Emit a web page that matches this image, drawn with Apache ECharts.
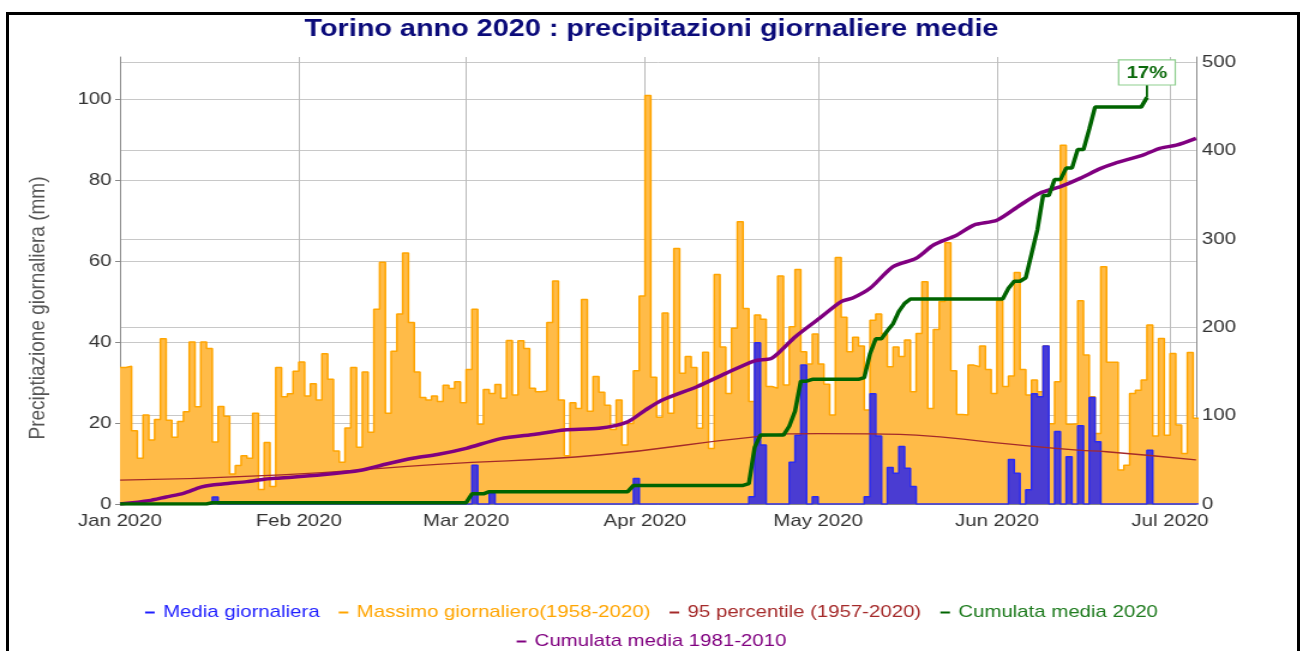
<!DOCTYPE html>
<html><head><meta charset="utf-8">
<script src="https://cdn.jsdelivr.net/npm/echarts@6/dist/echarts.min.js"></script>
<style>
html,body{margin:0;padding:0;background:#fff;overflow:hidden;}
#c{width:1086px;height:651px;position:absolute;left:0;top:0;transform-origin:0 0;transform:scaleX(1.19982);}
#frame{position:absolute;left:6px;top:12px;width:1288px;height:700px;border:3px solid #000;pointer-events:none;}
</style></head><body>
<div id="c"></div><div id="frame"></div>
<script>
// ---- data (index = day number from 1 Jan 2020) ----
const MONTH_LABELS = ['Jan','Feb','Mar','Apr','May','Jun','Jul','Aug','Sep','Oct','Nov','Dec'];
const leftTicks = [0,20,40,60,80,100];
const rightTicks = [0,100,200,300,400,500];

const massimo = [
33.7,34,18.1,11.3,22,15.8,20.9,40.8,20.7,16.5,
20.4,22.8,40,24,40,38.4,15.3,24.1,21.7,7.4,
9.5,11.9,11.3,22.4,3.6,15.2,4.3,33.7,26.5,27.2,
32.8,35.1,26.7,29.7,25.7,37.1,30.8,13.1,10.3,18.8,
33.7,14,32.6,17.7,48.1,59.7,22.4,37.7,46.9,62,
44.8,32.6,26.3,25.7,26.7,25.3,29.3,28.5,30.2,25,
33.2,48.1,19.7,28.3,27.3,29.5,26.1,40.4,26.9,40.3,
38.4,28.6,27.7,27.9,44.8,55.1,25.7,11.9,25,23.6,
50.5,22.9,31.5,27.6,24.4,18.4,25.7,14.6,19.9,32.9,
51.4,100.9,31.3,21.4,47.2,22.4,63.1,32.3,36.4,33.7,
18.7,37.5,13.7,56.7,38.8,27.3,43.4,69.7,48.3,25.3,
46.7,45.6,29,28.6,56.3,29.4,43.8,57.9,37.6,34.6,
42,34.6,29.6,22,60.9,46.1,37.6,41.2,39,23.2,
45.4,46.9,42.1,33.9,38.8,36.4,40.5,27.7,42.1,54.9,
23.6,43.1,50,64.5,32.9,22.1,22,34.3,33.9,39,
33.2,27.3,50.2,29,31.6,57.2,33.2,26.9,30.6,27.7,
39,19.8,30.2,88.6,19.7,19.8,50.2,36.8,26.5,17.4,
58.6,35,35,8.4,9.6,27.3,28.1,30.6,44.2,16.8,
40.9,17,37.2,19.5,12.5,37.4,21.2
];

const media = [
0,0,0,0,0,0,0,0,0,0,
0,0,0,0,0,0,1.7,0,0,0,
0,0,0,0,0,0,0,0,0,0,
0,0,0,0,0,0,0,0,0,0,
0,0,0,0,0,0,0,0,0,0,
0,0,0,0,0,0,0,0,0,0,
0,9.6,0,0,2.6,0,0,0,0,0,
0,0,0,0,0,0,0,0,0,0,
0,0,0,0,0,0,0,0,0,6.3,
0,0,0,0,0,0,0,0,0,0,
0,0,0,0,0,0,0,0,0,1.8,
39.8,14.6,0,0,0,0,10.3,17,34.3,0,
1.8,0,0,0,0,0,0,0,0,1.8,
27.2,16.8,0,9,7.6,14.2,8.8,4.3,0,0,
0,0,0,0,0,0,0,0,0,0,
0,0,0,0,11,7.6,0,3.5,27.2,26.5,
39,0,17.9,0,11.7,0,19.3,0,26.3,15.4,
0,0,0,0,0,0,0,0,13.3,0,
0,0,0,0,0,0,0
];

// [day, value] points
const perc95 = [[0,5.9],[28,7.2],[55,9.8],[83,12.1],[110,16.6],[121,17.4],[130,17.3],[138,17],[152,15.1],[166,13.3],[171,12.9],[186.5,10.9]];

const cum2020 = [[0,0],[15,0],[16,1.5],[60,1.5],[61,11.5],[63,11.5],[64,14],[88,14],[89,21],[108,21],[109,23],[110,64],[111,78],[115,78],[116,88],[117,105],[118,139],[119,139],[120,141],[128,141],[129,143],[130,170],[131,187],[132,187],[133,196],[134,204],[135,218],[136,227],[137,232],[153,232],[154,244],[155,252],[156,252],[157,256],[158,283],[159,310],[160,349],[161,349],[162,367],[163,367],[164,380],[165,380],[166,401],[167,401],[168,424],[169,449],[177,449],[178,460]];
const cumLabel = '17%';

const cumClim = [[0,0],[5,3.8],[8,8],[11,12],[14,19],[16,21.5],[19,23.4],[22,25.3],[25,28],[27,29],[35,33],[42,38.5],[46,45],[51,52],[55,56],[60,63],[66,74],[72,79],[77,83.7],[83,85.6],[88,93],[91,106],[94,117.6],[100,132.7],[105,147.8],[110,162],[113,165],[117,189],[121,209],[125,229],[127,233],[130,244],[134,268.5],[138,278],[141,293],[145,304],[148,315.6],[152,321],[156,338],[159.4,351.5],[163,359],[166.4,368.4],[170,379.7],[172.4,385.4],[177.3,394.8],[180.2,402.4],[183.1,406],[186.5,413.7]];

// ---- build ----
const DAY = 86400000;
const t0 = new Date(2020,0,1).getTime();
const dt = d => Number.isInteger(d) ? new Date(2020,0,1+d).getTime() : new Date(2020,0,1+Math.floor(d)).getTime() + (d-Math.floor(d))*DAY;
const xMax = dt(186.5);

const stepData = arr => { const out = arr.map((v,i)=>[dt(i),v]); out.push([dt(arr.length), arr[arr.length-1]]); return out; };
const pairs = arr => arr.map(p=>[dt(p[0]),p[1]]);
const greenData = pairs(cum2020);
const lastGreen = greenData[greenData.length-1];

const C_BLUE='#1f1fff', C_ORANGE='#ffa500', C_BROWN='#a52a2a', C_GREEN='#006400', C_PURPLE='#800080';
const FONT='Liberation Sans, Arial, sans-serif';

const chart = echarts.init(document.getElementById('c'), null, {renderer:'canvas', width:1086, height:651});
chart.setOption({
  animation:false,
  backgroundColor:'#fff',
  title:{text:'Torino anno 2020 : precipitazioni giornaliere medie', left:'center', top:12,
    textStyle:{fontFamily:FONT, fontWeight:'bold', fontSize:24, color:'#0b0b7a'}},
  legend:[
    {data:[
      {name:'Media giornaliera', textStyle:{color:C_BLUE}},
      {name:'Massimo giornaliero(1958-2020)', textStyle:{color:C_ORANGE}},
      {name:'95 percentile (1957-2020)', textStyle:{color:C_BROWN}},
      {name:'Cumulata media 2020', textStyle:{color:'#1e7b1e'}}],
     left:'center', top:599, itemWidth:8, itemHeight:2, itemGap:16,
     icon:'rect', textStyle:{fontFamily:FONT, fontSize:17, padding:[0,0,0,2]}},
    {data:[{name:'Cumulata media 1981-2010', textStyle:{color:C_PURPLE}}],
     left:'center', top:628, itemWidth:8, itemHeight:2, itemGap:16,
     icon:'rect', textStyle:{fontFamily:FONT, fontSize:17, padding:[0,0,0,2]}}
  ],
  grid:{left:100, right:89.2, top:57, bottom:147, containLabel:false},
  xAxis:{type:'time', min:t0, max:xMax, splitNumber:6,
    axisLine:{show:true, lineStyle:{color:'#888'}},
    axisTick:{show:false},
    splitLine:{show:true, lineStyle:{color:'#bbb', width:1}},
    axisLabel:{fontFamily:FONT, fontSize:17, color:'#333', margin:9, hideOverlap:false,
      formatter:function(v){const d=new Date(v); if(d.getDate()!==1||d.getHours()!==0) return ''; return MONTH_LABELS[d.getMonth()]+' '+d.getFullYear();}}},
  yAxis:[
    {type:'value', min:leftTicks[0], max:110.4, interval:leftTicks[1]-leftTicks[0], position:'left',
     name:'Preciptiazione giornaliera (mm)', nameLocation:'middle', nameGap:59,
     nameTextStyle:{fontFamily:FONT, fontSize:19, color:'#555', padding:[0,55,0,0]},
     axisLine:{show:true, lineStyle:{color:'#888'}},
     axisTick:{show:true, length:4, lineStyle:{color:'#888'}},
     axisLabel:{fontFamily:FONT, fontSize:17, color:'#333', margin:7, showMaxLabel:false,
       formatter:v=>leftTicks.indexOf(v)>=0?String(v):''},
     splitLine:{show:true, showMaxLine:false, lineStyle:{color:'#c8c8c8'}}},
    {type:'value', min:rightTicks[0], max:505.7, interval:rightTicks[1]-rightTicks[0], position:'right',
     axisLine:{show:true, lineStyle:{color:'#888'}},
     axisTick:{show:false},
     axisLabel:{fontFamily:FONT, fontSize:17, color:'#333', margin:5, showMaxLabel:false,
       formatter:v=>rightTicks.indexOf(v)>=0?String(v):''},
     splitLine:{show:true, showMaxLine:false, lineStyle:{color:'#c8c8c8'}}}
  ],
  series:[
    {name:'Massimo giornaliero(1958-2020)', type:'line', step:'end', yAxisIndex:0, symbol:'none',
     data:stepData(massimo), color:C_ORANGE,
     lineStyle:{color:C_ORANGE, width:1.5}, areaStyle:{color:'#ffbb48', opacity:1}, z:1},
    {name:'Media giornaliera', type:'line', step:'end', yAxisIndex:0, symbol:'none',
     data:stepData(media), color:C_BLUE,
     lineStyle:{color:'#2b2bf0', width:1.5}, areaStyle:{color:'#4a3cd2', opacity:1}, z:2},
    {name:'95 percentile (1957-2020)', type:'line', smooth:true, yAxisIndex:0, symbol:'none',
     data:pairs(perc95), color:C_BROWN, lineStyle:{color:C_BROWN, width:1.3}, z:3},
    {name:'Cumulata media 1981-2010', type:'line', smooth:0.25, yAxisIndex:1, symbol:'none',
     data:pairs(cumClim), color:C_PURPLE, lineStyle:{color:C_PURPLE, width:3.5}, z:4},
    {name:'Cumulata media 2020', type:'line', yAxisIndex:1, symbol:'none',
     data:greenData, color:C_GREEN, lineStyle:{color:C_GREEN, width:3.5}, z:5,
     markPoint:{symbol:'rect', symbolSize:[1.8,13], symbolOffset:[0,-6.5], silent:true,
       itemStyle:{color:C_GREEN},
       label:{show:true, position:'top', distance:0, formatter:cumLabel,
         color:'#0b6a0b', fontWeight:'bold', fontSize:17, fontFamily:FONT,
         backgroundColor:'#fff', borderColor:'#8fcf8f', borderWidth:1.2, padding:[4,6,3,6]},
       data:[{coord:lastGreen}]}}
  ]
});
</script>
</body></html>
